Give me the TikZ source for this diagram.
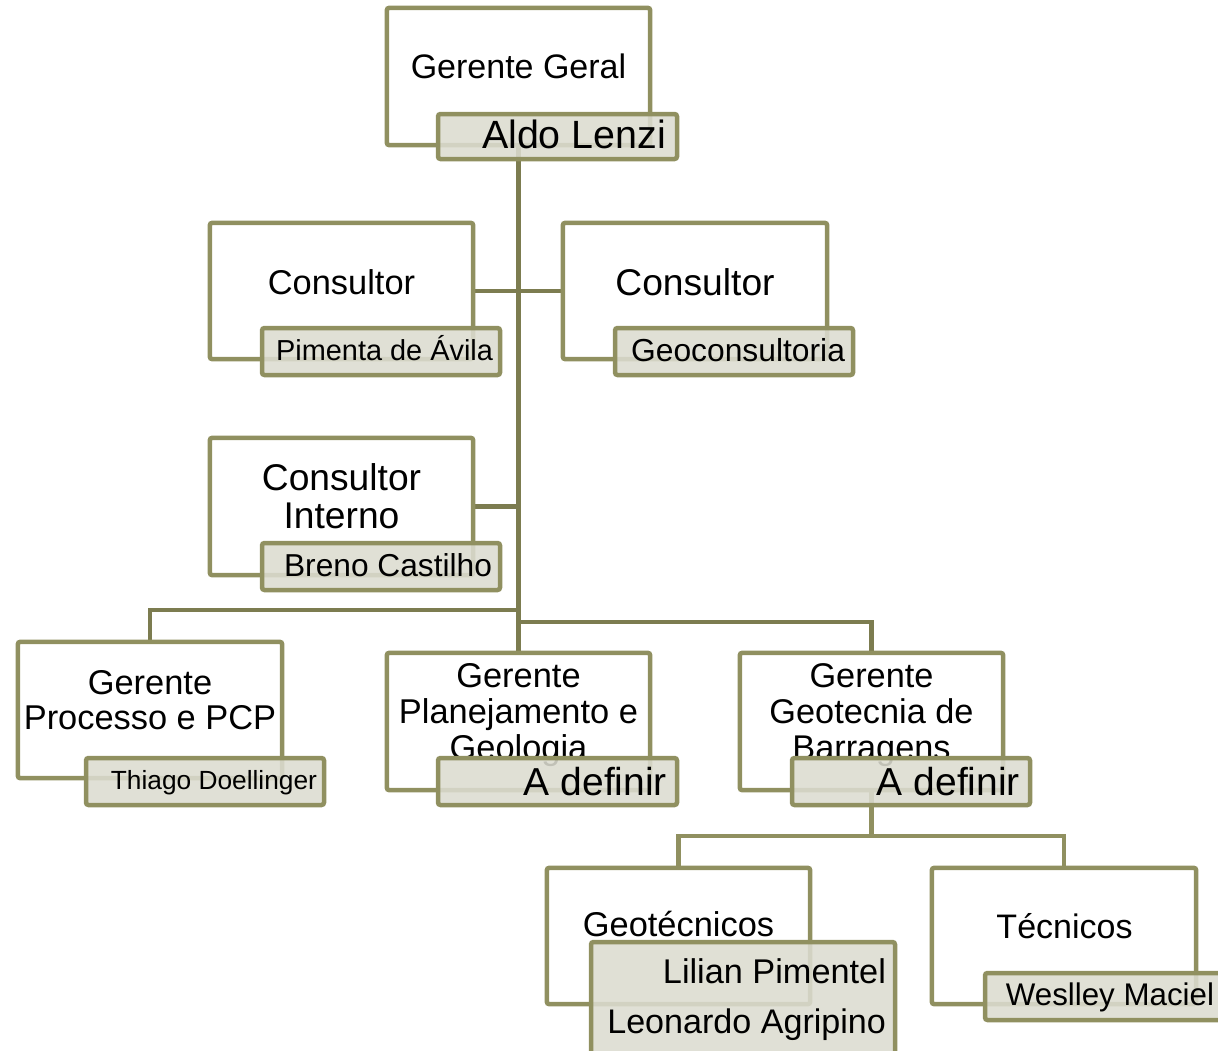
\documentclass[tikz,border=0pt]{standalone}
\usepackage{fontspec}
\setmainfont{Liberation Sans}
\definecolor{olive1}{RGB}{144,144,96}
\definecolor{olive2}{RGB}{124,124,80}
\definecolor{namefill}{RGB}{220,220,208}
\tikzset{
  mainbox/.style={draw=olive1, line width=4.5pt, fill=white, rounded corners=2.5pt, inner sep=0pt, outer sep=0pt},
  namebox/.style={draw=olive1, line width=4.5pt, fill=namefill, fill opacity=0.88, rounded corners=2.5pt, inner sep=0pt, outer sep=0pt},
  conn/.style={draw=olive2, line width=4.5pt},
  conn2/.style={draw=olive1, line width=4.5pt},
  txt/.style={inner sep=0pt, outer sep=0pt, text=black},
}
\newcommand\fs[1]{\fontsize{#1}{#1}\selectfont}
\begin{document}
\begin{tikzpicture}[x=1pt,y=-1pt]
\useasboundingbox (0,0) rectangle (1218,1050);
\clip (0,0) rectangle (1218,1050);

% coordinates for junctions
\coordinate (j1) at (518,610);
\coordinate (j2) at (518,622);
\coordinate (j3) at (871.5,836);

% main boxes (placed first as invisible for connectors)
\path node[minimum width=263pt, minimum height=137pt, inner sep=0pt] (gg) at (518.5,76.5) {};
\path node[minimum width=263pt, minimum height=136pt, inner sep=0pt] (c1) at (341.5,291) {};
\path node[minimum width=264pt, minimum height=136pt, inner sep=0pt] (c2) at (695,291) {};
\path node[minimum width=263pt, minimum height=137pt, inner sep=0pt] (ci) at (341.5,506.5) {};
\path node[minimum width=264pt, minimum height=136pt, inner sep=0pt] (proc) at (150,710) {};
\path node[minimum width=263pt, minimum height=137pt, inner sep=0pt] (plan) at (518.5,721.5) {};
\path node[minimum width=263pt, minimum height=137pt, inner sep=0pt] (geo) at (871.5,721.5) {};
\path node[minimum width=263pt, minimum height=136pt, inner sep=0pt] (geot) at (678.5,936) {};
\path node[minimum width=264pt, minimum height=136pt, inner sep=0pt] (tec) at (1064,936) {};

% connectors
\draw[conn] (gg.center |- gg.south) -- (plan.north);
\draw[conn] (c1.east) -- (c2.west);
\draw[conn] (ci.east) -- (ci.east -| gg.south);
\draw[conn] (j1) -| (proc.north);
\draw[conn] (j2) -| (geo.north);
\draw[conn2] (geo.south) -- (j3);
\draw[conn2] (j3) -| (geot.north);
\draw[conn2] (j3) -| (tec.north);

% box frames
\foreach \n in {gg,c1,c2,ci,proc,plan,geo,geot,tec}
  \draw[mainbox] (\n.north west) rectangle (\n.south east);

% position titles
\node[txt, anchor=base] (gg-t) at (518.5,78) {\fs{34}Gerente Geral};
\node[txt, anchor=base] (c1-t) at (341.5,294) {\fs{34.4}Consultor};
\node[txt, anchor=base] (c2-t) at (695,295) {\fs{37.2}Consultor};
\node[txt, anchor=base, align=center, font=\fontsize{37.2}{38}\selectfont] (ci-t) at (341.5,528) {Consultor\\Interno};
\node[txt, anchor=base, align=center, font=\fontsize{34.4}{35}\selectfont] (proc-t) at (150,729) {Gerente\\Processo e PCP};
\node[txt, anchor=base, align=center, font=\fontsize{34.4}{36}\selectfont] (plan-t) at (518.5,759) {Gerente\\Planejamento e\\Geologia};
\node[txt, anchor=base, align=center, font=\fontsize{34.3}{36}\selectfont] (geo-t) at (871.5,759) {Gerente\\Geotecnia de\\Barragens};
\node[txt, anchor=base] (geot-t) at (678.5,936) {\fs{34.4}Geotécnicos};
\node[txt, anchor=base] (tec-t) at (1064.5,938) {\fs{34}Técnicos};

% name boxes
\draw[namebox] (438,114) rectangle (677,159);
\draw[namebox] (262,328) rectangle (500,375);
\draw[namebox] (615,328) rectangle (853,375);
\draw[namebox] (262,543) rectangle (500,590);
\draw[namebox] (86,758) rectangle (324,805);
\draw[namebox] (438,758) rectangle (677,805);
\draw[namebox] (792,758) rectangle (1030,805);
\draw[namebox] (591,942) rectangle (895,1056);
\draw[namebox] (985,973) rectangle (1224,1020);

% names
\node[txt, anchor=base east] (gg-n) at (666,148) {\fs{39.4}Aldo Lenzi};
\node[txt, anchor=base east] (c1-n) at (493,360) {\fs{28.9}Pimenta de Ávila};
\node[txt, anchor=base east] (c2-n) at (845,361) {\fs{31.8}Geoconsultoria};
\node[txt, anchor=base east] (ci-n) at (492,576) {\fs{31.7}Breno Castilho};
\node[txt, anchor=base east] (proc-n) at (317,789) {\fs{26.3}Thiago Doellinger};
\node[txt, anchor=base east] (plan-n) at (667,795) {\fs{39}A definir};
\node[txt, anchor=base east] (geo-n) at (1020,795) {\fs{39}A definir};
\node[txt, anchor=base east] (geot-n1) at (886,983) {\fs{34.3}Lilian Pimentel};
\node[txt, anchor=base east] (geot-n2) at (886,1033) {\fs{34.1}Leonardo Agripino};
\node[txt, anchor=base east] (tec-n) at (1214,1005) {\fs{31.3}Weslley Maciel};
\end{tikzpicture}
\end{document}
